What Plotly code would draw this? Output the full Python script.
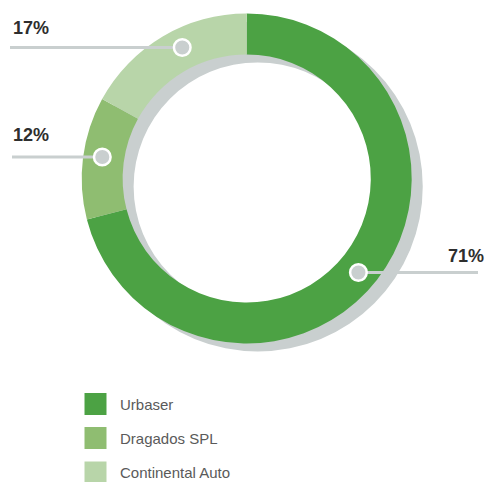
import math
import plotly.graph_objects as go

# data
companies = ["Urbaser", "Dragados SPL", "Continental Auto"]
shares = [71, 12, 17]
share_labels = ["71%", "12%", "17%"]
colors = ["#4ca244", "#8fbd71", "#b8d5a9"]

W, H = 488, 482
# ring geometry in pixels (layout only)
cx, cy, r_out, hole = 246.7, 178.5, 165, 0.752
shadow_dx, shadow_dy = 11, 8
r_mark = 146
dot_r = 8.3
# label placement: leader y, label text y, label text x, line end x, side
label_pos = {
    "Urbaser": dict(y=272.5, ty=255.5, tx=486, lx=478, side="right"),
    "Dragados SPL": dict(y=157, ty=134.5, tx=11, lx=12, side="left"),
    "Continental Auto": dict(y=47.5, ty=27.5, tx=11, lx=10, side="left"),
}
GRAY = "#c9cfcf"


def dom(x0, y0, r):
    return dict(x=[(x0 - r) / W, (x0 + r) / W], y=[1 - (y0 + r) / H, 1 - (y0 - r) / H])


fig = go.Figure()

# shadow ring
fig.add_trace(go.Pie(
    values=[1], labels=["shadow"], hole=hole, sort=False,
    marker=dict(colors=[GRAY], line=dict(width=0)),
    textinfo="none", hoverinfo="skip", showlegend=False,
    domain=dom(cx + shadow_dx, cy + shadow_dy, r_out),
))

# main donut
fig.add_trace(go.Pie(
    values=shares, labels=companies, hole=hole, sort=False,
    direction="clockwise", rotation=0,
    marker=dict(colors=colors, line=dict(width=0)),
    textinfo="none", showlegend=False,
    domain=dom(cx, cy, r_out),
))

# leader lines + dots (shapes, so they sit above the pie layer)
total = sum(shares)
start = 0.0
for name, v, lab in zip(companies, shares, share_labels):
    p = label_pos[name]
    mid = (start + v / 2) / total * 2 * math.pi
    start += v
    side = 1 if math.sin(mid) >= 0 else -1
    dy = p["y"] - cy
    x = cx + side * math.sqrt(max(r_mark ** 2 - dy ** 2, 0))
    fig.add_shape(type="line", xref="x", yref="y", layer="above",
                  x0=p["lx"], x1=x, y0=p["y"], y1=p["y"],
                  line=dict(color=GRAY, width=3))
    fig.add_shape(type="circle", xref="x", yref="y", layer="above",
                  x0=x - dot_r, x1=x + dot_r, y0=p["y"] - dot_r, y1=p["y"] + dot_r,
                  fillcolor=GRAY, line=dict(color="white", width=2.5))
    fig.add_annotation(
        x=p["tx"], y=p["ty"], text="<b>%s</b>" % lab, showarrow=False,
        xanchor="right" if p["side"] == "right" else "left", yanchor="middle",
        font=dict(family="Liberation Sans", size=18, color="#2e2e2e"),
    )

# legend
leg_y = [404, 438, 472.5]
fig.add_trace(go.Scatter(
    x=[95.5] * len(companies), y=leg_y, mode="markers",
    marker=dict(symbol="square", size=22, color=colors, line=dict(width=0)),
    hoverinfo="skip", showlegend=False,
))
for name, y in zip(companies, leg_y):
    fig.add_annotation(
        x=118, y=y, text=name, showarrow=False, xanchor="left", yanchor="middle",
        font=dict(family="Liberation Sans", size=15, color="#5a5a5a"),
    )

fig.update_layout(
    width=W, height=H,
    margin=dict(l=0, r=0, t=0, b=0),
    paper_bgcolor="white", plot_bgcolor="rgba(0,0,0,0)",
    xaxis=dict(range=[0, W], visible=False, domain=[0, 1], fixedrange=True),
    yaxis=dict(range=[H, 0], visible=False, domain=[0, 1], fixedrange=True),
    showlegend=False,
)

fig.write_html("out.html", config={"displayModeBar": False},
               post_script="document.body.style.margin='0';")
